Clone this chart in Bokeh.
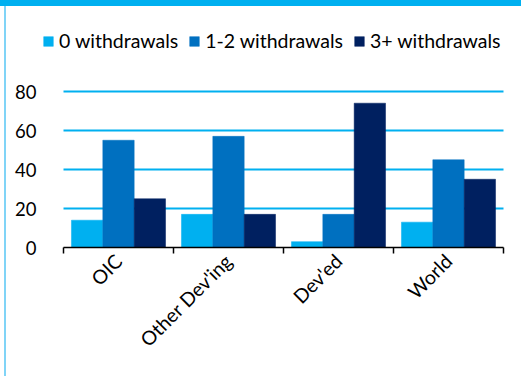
import math
import numpy as np
from bokeh.plotting import figure
from bokeh.layouts import column, row
from bokeh.models import ColumnDataSource, Range1d, FixedTicker, Legend, LegendItem, Div
from bokeh.transform import dodge
from bokeh.embed import file_html
from bokeh.resources import INLINE

categories = ["OIC", "Other Dev'ing", "Dev'ed", "World"]
series_names = ["0 withdrawals", "1-2 withdrawals", "3+ withdrawals"]
zero_withdrawals = [14, 17, 3, 13]
one_two_withdrawals = [55, 57, 17, 45]
three_plus_withdrawals = [25, 17, 74, 35]
y_ticks = [0, 20, 40, 60, 80]

colors = ["#00b0f0", "#0070c0", "#002060"]
FONT = "Lato"
FS = "19.5px"
FS_Y = "18.5px"

n = len(categories)
centers = list(np.arange(n) + 0.5)
source = ColumnDataSource(dict(x=centers, s0=zero_withdrawals, s1=one_two_withdrawals,
                               s2=three_plus_withdrawals))

# frame extended left/right (legend row) and top (legend row)
p = figure(width=515, height=370, output_backend="svg", toolbar_location=None,
           x_range=Range1d(-21 / 110, n + 18 / 110), y_range=Range1d(0, 222 / 1.95),
           min_border_left=36, min_border_right=0, min_border_top=19, min_border_bottom=129)
p.outline_line_color = None
p.background_fill_color = "white"
p.border_fill_color = "white"

w = 0.285
renderers = []
for k, (col, off) in enumerate(zip(["s0", "s1", "s2"], [-w, 0, w])):
    r = p.vbar(x=dodge("x", off), top=col, width=w, bottom=0, source=source,
               fill_color=colors[k], line_color=colors[k], line_width=0.5)
    renderers.append(r)

# y axis
p.yaxis.ticker = FixedTicker(ticks=y_ticks)
p.yaxis.axis_line_color = None
p.yaxis.major_tick_line_color = None
p.yaxis.minor_tick_line_color = None
p.yaxis.major_label_standoff = 0
p.yaxis.major_label_text_font = FONT
p.yaxis.major_label_text_font_size = FS_Y
p.yaxis.major_label_text_color = "#000000"

# grid
p.xgrid.grid_line_color = None
p.ygrid.ticker = FixedTicker(ticks=y_ticks[1:])
p.ygrid.grid_line_color = "#00b0f0"
p.ygrid.grid_line_width = 2
p.ygrid.cross_bounds = (0, n)

# x axis
p.xaxis.bounds = (0, n)
p.xaxis.ticker = FixedTicker(ticks=centers, minor_ticks=list(range(n + 1)))
p.xaxis.major_label_overrides = {c: lab for c, lab in zip(centers, categories)}
p.xaxis.major_tick_line_color = None
p.xaxis.major_tick_out = 0
p.xaxis.major_tick_in = 0
p.xaxis.minor_tick_line_color = "#000000"
p.xaxis.minor_tick_line_width = 1.5
p.xaxis.minor_tick_out = 6
p.xaxis.minor_tick_in = 0
p.xaxis.axis_line_color = "#000000"
p.xaxis.axis_line_width = 1.5
p.xaxis.major_label_orientation = math.pi / 4
p.xaxis.major_label_standoff = 4
p.xaxis.major_label_text_font = FONT
p.xaxis.major_label_text_font_size = FS
p.xaxis.major_label_text_color = "#000000"

legend = Legend(items=[LegendItem(label=s, renderers=[r]) for s, r in zip(series_names, renderers)],
                orientation="horizontal", location=(0, 195),
                glyph_width=12, glyph_height=12, label_height=20, label_standoff=5,
                spacing=10, padding=0, margin=0, border_line_color=None,
                background_fill_alpha=0, label_text_font=FONT, label_text_font_size=FS,
                label_text_color="#000000")
p.add_layout(legend, "center")

top_band = Div(text="", width=521, height=6, margin=0,
               styles={"background-color": "#00b0f0"})
left_gap = Div(text="", width=4, height=370, margin=0, styles={"background-color": "white"})
left_border = Div(text="", width=2, height=370, margin=0, styles={"background-color": "#80d4f7"})
layout = column(top_band, row(left_gap, left_border, p, spacing=0), spacing=0)

open("out.html", "w").write(file_html(layout, INLINE))
